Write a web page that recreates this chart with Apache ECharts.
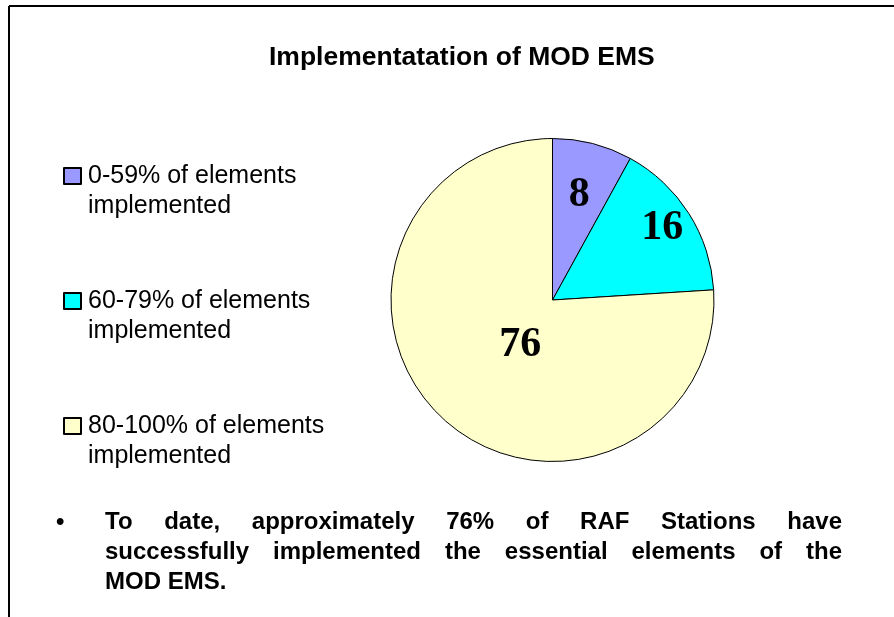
<!DOCTYPE html>
<html>
<head>
<meta charset="utf-8">
<script src="https://cdn.jsdelivr.net/npm/echarts@6/dist/echarts.min.js"></script>
<style>
  html, body { margin: 0; padding: 0; background: #fff; }
  #chart { position: absolute; left: 0; top: 0; width: 894px; height: 617px; }
  .note {
    position: absolute;
    left: 105px;
    top: 506px;
    width: 737px;
    font: bold 24px "Liberation Sans", Arial, sans-serif;
    line-height: 30px;
    color: #000;
  }
  .note .j { text-align: justify; text-align-last: justify; }
  .bullet {
    position: absolute;
    left: 56px;
    top: 506px;
    font: bold 24px "Liberation Sans", Arial, sans-serif;
    line-height: 30px;
  }
</style>
</head>
<body>
<div id="chart"></div>
<div class="bullet">•</div>
<div class="note">
  <div class="j">To date, approximately 76% of RAF Stations have</div>
  <div class="j">successfully implemented the essential elements of the</div>
  <div>MOD EMS.</div>
</div>
<script>
// 数据
const categories = ['0-59% of elements\nimplemented', '60-79% of elements\nimplemented', '80-100% of elements\nimplemented']
const values = [8, 16, 76]
const colors = ['#9999FF', '#00FFFF', '#FFFFCC']
// label nudges (px) from the default inside position
const labelNudge = [[6, -24], [39, -27], [25, -16]]

const chart = echarts.init(document.getElementById('chart'))

const option = {
  animation: false,
  title: {
    text: 'Implementatation of MOD EMS',
    left: 269,
    top: 44,
    padding: 0,
    textStyle: {
      fontFamily: 'Liberation Sans',
      fontSize: 26.5,
      fontWeight: 'bold',
      color: '#000'
    }
  },
  legend: {
    orient: 'vertical',
    left: 63,
    top: 131,
    padding: 0,
    itemGap: 35,
    itemWidth: 17,
    itemHeight: 16,
    icon: 'rect',
    selectedMode: false,
    data: categories,
    // leading blank line keeps the swatch level with the first text line
    formatter: name => '\n' + name,
    textStyle: {
      fontFamily: 'Liberation Sans',
      fontSize: 25,
      lineHeight: 30,
      color: '#000',
      padding: [0, 0, 0, 2]
    }
  },
  graphic: [
    { type: 'line', shape: { x1: 9, y1: 6, x2: 894, y2: 6 }, style: { stroke: '#000', lineWidth: 2 } },
    { type: 'line', shape: { x1: 9, y1: 6, x2: 9, y2: 617 }, style: { stroke: '#000', lineWidth: 2 } }
  ],
  series: [
    {
      type: 'pie',
      center: [552.5, 300],
      radius: 161.5,
      startAngle: 90,
      clockwise: true,
      avoidLabelOverlap: false,
      silent: true,
      itemStyle: { borderColor: '#000', borderWidth: 1 },
      label: {
        show: true,
        position: 'inside',
        formatter: '{c}',
        fontFamily: 'Liberation Serif',
        fontSize: 42,
        fontWeight: 'bold',
        color: '#000'
      },
      labelLayout: function (params) {
        const n = labelNudge[params.dataIndex]
        return { dx: n[0], dy: n[1] }
      },
      data: categories.map((name, i) => ({
        name: name,
        value: values[i],
        itemStyle: { color: colors[i] }
      }))
    }
  ]
}

chart.setOption(option)
</script>
</body>
</html>
